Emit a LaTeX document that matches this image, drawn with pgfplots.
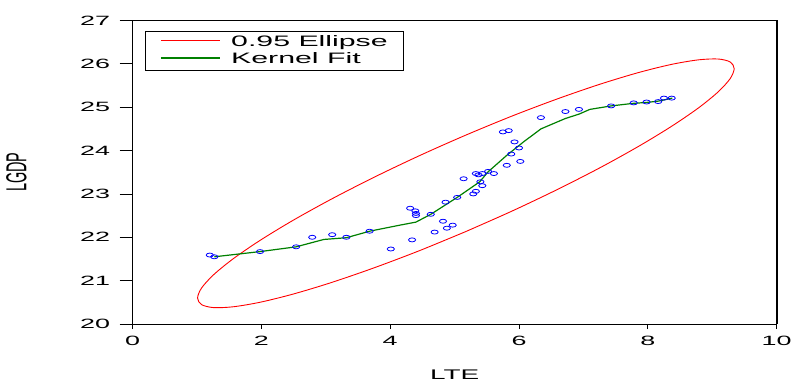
\documentclass[border=0pt]{standalone}
\usepackage{fontspec}
\setmainfont{Liberation Sans}
\usepackage{pgfplots}
\pgfplotsset{compat=1.18}
\newcommand{\SX}[1]{\scalebox{2}[1]{#1}}
\newcommand{\SY}[1]{\scalebox{1}[2]{#1}}
\definecolor{kgreen}{RGB}{0,128,0}
\definecolor{ered}{RGB}{255,0,0}
\begin{document}
\begin{tikzpicture}
\begin{axis}[
  scale only axis, width=644.2bp, height=303.5bp,
  xmin=0, xmax=10, ymin=20, ymax=27,
  xtick={0,2,4,6,8,10},
  xticklabels={\SX{0},\SX{2},\SX{4},\SX{6},\SX{8},\SX{10}},
  ytick={20,21,22,23,24,25,26,27},
  yticklabels={\SX{20},\SX{21},\SX{22},\SX{23},\SX{24},\SX{25},\SX{26},\SX{27}},
  tick align=outside, major tick length=5bp,
  xtick pos=bottom, ytick pos=left,
  extra y ticks={20,21,22,23,24,25,26,27}, extra y tick labels={},
  extra y tick style={major tick length=13bp},
  tick style={black, line width=0.8bp},
  tick label style={font=\fontsize{13.5}{16}\selectfont},
  yticklabel style={xshift=-14bp},
  xticklabel style={yshift=-4bp},
  separate axis lines,
  x axis line style={black, line width=0.9bp},
  y axis line style={black, line width=1.6bp},
  xlabel={\SX{LTE}}, ylabel={\SY{LGDP}},
  xlabel style={at={(rel axis cs:0.5,-0.168)}, anchor=center, font=\fontsize{14}{16}\selectfont},
  ylabel style={at={(rel axis cs:-0.18,0.5)}, anchor=center, font=\fontsize{14.5}{16}\selectfont},
]
\addplot[only marks, mark=o, color=blue, mark size=2bp, mark options={xscale=1.8, line width=0.8bp}] table {
1.20 21.59
1.27 21.55
1.98 21.67
2.54 21.78
2.79 22.00
3.10 22.06
3.32 22.00
3.68 22.14
4.01 21.73
4.34 21.94
4.31 22.67
4.39 22.61
4.40 22.55
4.40 22.50
4.63 22.53
4.69 22.12
4.82 22.37
4.88 22.21
4.97 22.28
4.86 22.81
5.04 22.92
5.14 23.35
5.29 23.00
5.33 23.06
5.40 23.28
5.43 23.19
5.33 23.47
5.37 23.44
5.43 23.47
5.52 23.52
5.61 23.47
5.81 23.66
6.02 23.75
5.88 23.92
6.00 24.06
5.93 24.20
5.75 24.43
5.84 24.46
6.34 24.76
6.72 24.90
6.93 24.95
7.43 25.03
7.78 25.10
7.98 25.12
8.16 25.13
8.25 25.21
8.37 25.21
};
\addplot[draw=ered, line width=0.9bp, smooth] table {
5.175 22.133
5.898 22.609
6.599 23.105
7.258 23.605
7.852 24.094
8.365 24.557
8.782 24.980
9.089 25.351
9.277 25.658
9.340 25.891
9.277 26.044
9.089 26.112
8.782 26.092
8.365 25.987
7.852 25.798
7.258 25.531
6.599 25.194
5.898 24.800
5.175 24.357
4.452 23.881
3.751 23.385
3.093 22.885
2.498 22.396
1.985 21.933
1.568 21.510
1.261 21.139
1.073 20.832
1.010 20.599
1.073 20.446
1.261 20.378
1.568 20.398
1.985 20.503
2.498 20.692
3.093 20.959
3.751 21.296
4.452 21.690
5.175 22.133
};
\addplot[draw=kgreen, line width=1.2bp] table {
1.27 21.55
1.98 21.67
2.54 21.78
2.97 21.95
3.32 21.99
3.68 22.14
4.15 22.28
4.40 22.35
4.63 22.53
5.04 22.92
5.39 23.28
5.52 23.51
5.81 23.89
6.07 24.20
6.34 24.50
6.72 24.74
6.93 24.84
7.10 24.95
7.43 25.03
7.78 25.09
7.98 25.11
8.16 25.14
8.38 25.21
};
% legend box
\draw[black, line width=0.6bp, fill=white] (rel axis cs:0.0194,0.9654) rectangle (rel axis cs:0.4199,0.8369);
\draw[ered, line width=1bp] (rel axis cs:0.0442,0.9325) -- (rel axis cs:0.1358,0.9325);
\draw[kgreen, line width=1.2bp] (rel axis cs:0.0442,0.8764) -- (rel axis cs:0.1358,0.8764);
\node[anchor=base west, inner sep=0pt, yshift=-5.4bp, font=\fontsize{15.2}{18}\selectfont] at (rel axis cs:0.1529,0.9325) {\SX{0.95 Ellipse}};
\node[anchor=base west, inner sep=0pt, yshift=-5.4bp, font=\fontsize{15.2}{18}\selectfont] at (rel axis cs:0.1529,0.8764) {\SX{Kernel Fit}};
\end{axis}
\pgfresetboundingbox
\path[use as bounding box] (-132.5bp,-58bp) rectangle (660.5bp,324bp);
\end{tikzpicture}
\end{document}
